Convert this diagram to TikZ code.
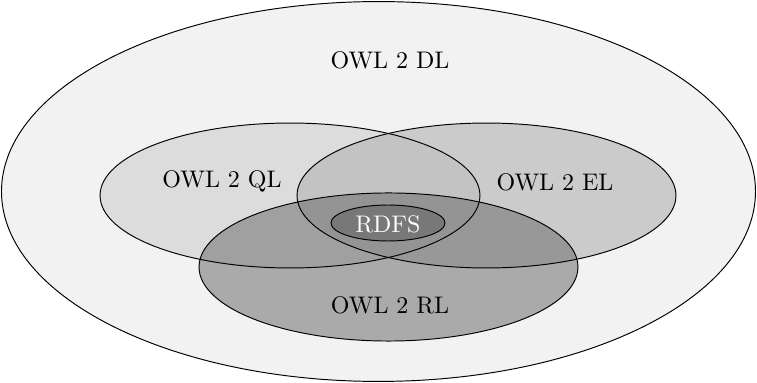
\documentclass[tikz,border=0pt]{standalone}
\usetikzlibrary{shapes.geometric}
\definecolor{dlfill}{RGB}{242,242,242}
\definecolor{qlfill}{RGB}{220,220,220}
\definecolor{elfill}{RGB}{182,182,182}
\definecolor{rlfill}{RGB}{111,111,111}
\definecolor{rdfsfill}{RGB}{120,120,120}
\begin{document}
\begin{tikzpicture}[x=0.4167pt,y=-0.4167pt,
  set/.style={ellipse, inner sep=0pt},
  outline/.style={draw=black, line width=0.4pt},
  lbl/.style={font=\normalsize, inner sep=0pt}]
\useasboundingbox (0,0) rectangle (757,383);
% fills
\node[set, fill=dlfill, minimum width=314.2pt, minimum height=158.3pt] (dl) at (378.5,191.5) {};
\node[set, fill=qlfill, minimum width=158.3pt, minimum height=60.4pt] (ql) at (290,195.5) {};
\node[set, fill=elfill, fill opacity=0.64, minimum width=157.9pt, minimum height=60.4pt] (el) at (486.5,195.5) {};
\node[set, fill=rlfill, fill opacity=0.55, minimum width=157.9pt, minimum height=61.7pt] (rl) at (388.5,267) {};
% outlines on top
\draw[outline] (dl.center) ellipse [x radius=157.1pt, y radius=79.15pt];
\draw[outline] (ql.center) ellipse [x radius=79.15pt, y radius=30.2pt];
\draw[outline] (el.center) ellipse [x radius=78.95pt, y radius=30.2pt];
\draw[outline] (rl.center) ellipse [x radius=78.95pt, y radius=30.85pt];
\node[set, outline, fill=rdfsfill, minimum width=47.5pt, minimum height=15pt] (rdfs) at (388,223) {};
% labels
\node[lbl] (tdl) at (390,60) {OWL 2 DL};
\node[lbl] (tql) at (222,181) {OWL 2 QL};
\node[lbl] (tel) at (555,182) {OWL 2 EL};
\node[lbl] (trl) at (390,305) {OWL 2 RL};
\node[lbl, text=white] (trdfs) at (388,224) {RDFS};
\end{tikzpicture}
\end{document}
